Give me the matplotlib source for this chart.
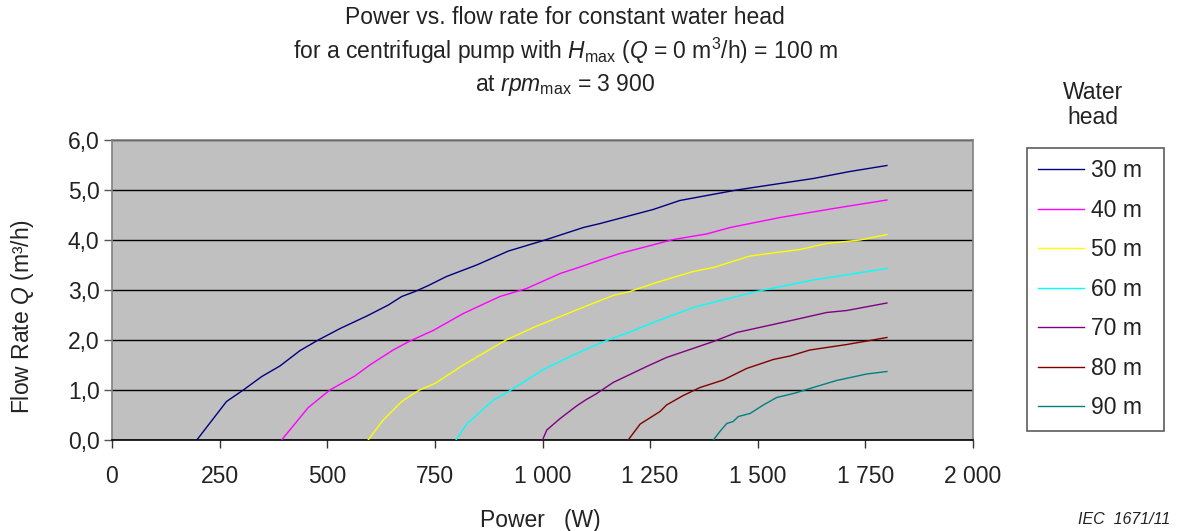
import matplotlib
matplotlib.use("Agg")
import matplotlib.pyplot as plt
from matplotlib.ticker import FuncFormatter, MultipleLocator

plt.rcParams['font.family'] = ['Liberation Sans', 'DejaVu Sans']
plt.rcParams['mathtext.fontset'] = 'custom'
plt.rcParams['mathtext.rm'] = 'Liberation Sans'
plt.rcParams['mathtext.it'] = 'Liberation Sans:italic'

heads = ['30 m', '40 m', '50 m', '60 m', '70 m', '80 m', '90 m']
colors = ['#000080', '#FF00FF', '#FFFF00', '#00FFFF', '#800080', '#800000', '#008080']

# power (W) and flow rate (m3/h)
p30 = [197, 266, 305, 348, 390, 437, 479, 530, 592, 642, 673, 704, 735, 777, 847, 921,
       1006, 1095, 1134, 1257, 1319, 1451, 1629, 1714, 1800]
q30 = [0.0, 0.77, 1.0, 1.27, 1.48, 1.79, 2.0, 2.23, 2.48, 2.70, 2.87, 2.97, 3.09, 3.27, 3.5, 3.78,
       4.0, 4.25, 4.33, 4.61, 4.79, 5.0, 5.23, 5.37, 5.49]
p40 = [394, 456, 506, 564, 599, 653, 692, 746, 816, 901, 963, 1041, 1087, 1134, 1180, 1304,
       1381, 1436, 1552, 1676, 1800]
q40 = [0.0, 0.65, 1.0, 1.28, 1.5, 1.8, 1.98, 2.19, 2.53, 2.87, 3.03, 3.33, 3.46, 3.6, 3.73, 4.01,
       4.12, 4.25, 4.45, 4.63, 4.8]
p50 = [595, 630, 673, 712, 750, 816, 913, 979, 1087, 1164, 1203, 1265, 1350, 1397, 1482,
       1598, 1660, 1738, 1800]
q50 = [0.0, 0.4, 0.77, 0.99, 1.13, 1.5, 1.99, 2.25, 2.63, 2.89, 2.97, 3.15, 3.37, 3.45, 3.68,
       3.81, 3.93, 4.0, 4.11]
p60 = [799, 824, 886, 925, 1002, 1072, 1110, 1149, 1203, 1257, 1350, 1497, 1629, 1800]
q60 = [0.0, 0.32, 0.8, 0.99, 1.41, 1.70, 1.85, 1.99, 2.16, 2.35, 2.65, 2.97, 3.2, 3.43]
p70 = [1000, 1010, 1041, 1079, 1100, 1126, 1164, 1242, 1288, 1397, 1451, 1583, 1660, 1707, 1800]
q70 = [0.0, 0.2, 0.43, 0.68, 0.8, 0.93, 1.15, 1.47, 1.65, 1.97, 2.15, 2.4, 2.55, 2.59, 2.74]
p80 = [1199, 1227, 1273, 1288, 1327, 1366, 1420, 1474, 1536, 1575, 1621, 1676, 1707, 1800]
q80 = [0.0, 0.32, 0.57, 0.7, 0.89, 1.05, 1.2, 1.43, 1.61, 1.68, 1.8, 1.87, 1.91, 2.05]
p90 = [1397, 1412, 1428, 1443, 1455, 1482, 1513, 1544, 1583, 1629, 1683, 1753, 1800]
q90 = [0.0, 0.17, 0.33, 0.37, 0.47, 0.53, 0.7, 0.85, 0.93, 1.05, 1.19, 1.32, 1.37]

powers = [p30, p40, p50, p60, p70, p80, p90]
flows = [q30, q40, q50, q60, q70, q80, q90]

FS = 16.5
TXT = '#222222'

fig = plt.figure(figsize=(11.8, 5.31), dpi=100)
ax = fig.add_axes([112 / 1180, 91 / 531, 861 / 1180, 300 / 531])
ax.set_facecolor('#C0C0C0')

for p, q, c, h in zip(powers, flows, colors, heads):
    ax.plot(p, q, color=c, lw=1.0, label=h, zorder=3)

ax.set_xlim(0, 2000)
ax.set_ylim(0, 6)
ax.xaxis.set_major_locator(MultipleLocator(250))
ax.yaxis.set_major_locator(MultipleLocator(1))
ax.xaxis.set_major_formatter(FuncFormatter(lambda v, pos: f"{int(v):,}".replace(",", " ")))
ax.yaxis.set_major_formatter(FuncFormatter(lambda v, pos: f"{v:.1f}".replace(".", ",")))
ax.grid(axis='y', color='black', lw=1.0, zorder=1)
ax.set_axisbelow(True)

for s in ['top', 'right', 'left']:
    ax.spines[s].set_color('#808080')
    ax.spines[s].set_linewidth(1.2)
ax.spines['bottom'].set_color('black')
ax.spines['bottom'].set_linewidth(1.2)
ax.tick_params(axis='x', direction='out', length=6, width=1, color='#333333',
               labelsize=FS, pad=12, labelcolor=TXT)
ax.tick_params(axis='y', direction='out', length=6, width=1, color='#555555',
               labelsize=FS, pad=3, labelcolor=TXT)

fig.text(23 / 1180, 1 - 317 / 531, r"Flow Rate $Q$ (m³/h)", fontsize=FS, color=TXT,
         rotation=90, ha='center', va='center')
fig.text(540 / 1180, 1 - 520 / 531, "Power   (W)", fontsize=FS, color=TXT,
         ha='center', va='center')
fig.text(1124 / 1180, 1 - 519 / 531, "IEC  1671/11", fontsize=11.5, style='italic',
         color=TXT, ha='center', va='center')

title_x = 565 / 1180
fig.text(title_x, 1 - 18 / 531, "Power vs. flow rate for constant water head",
         fontsize=FS, ha='center', va='center', color=TXT)
fig.text(title_x, 1 - 51 / 531,
         r"for a centrifugal pump with $H_{\mathrm{max}}$ ($Q$ = 0 m$^{3}$/h) = 100 m",
         fontsize=FS, ha='center', va='center', color=TXT)
fig.text(title_x, 1 - 85 / 531, r"at $rpm_{\mathrm{max}}$ = 3 900",
         fontsize=FS, ha='center', va='center', color=TXT)

fig.text(1093 / 1180, 1 - 105 / 531, "Water\nhead", fontsize=FS, ha='center', va='center',
         color=TXT, linespacing=1.15)

leg = fig.legend(loc='upper left',
                 bbox_to_anchor=(1027 / 1180, 100 / 531, 137 / 1180, (383 - 100) / 531),
                 mode='expand',
                 fontsize=FS, frameon=True, fancybox=False, edgecolor='#333333',
                 handlelength=2.0, handletextpad=0.3, labelspacing=0.72,
                 borderpad=0.5, borderaxespad=0)
leg.get_frame().set_linewidth(1.2)
for t in leg.get_texts():
    t.set_color(TXT)

fig.savefig('out.png', dpi=100)
